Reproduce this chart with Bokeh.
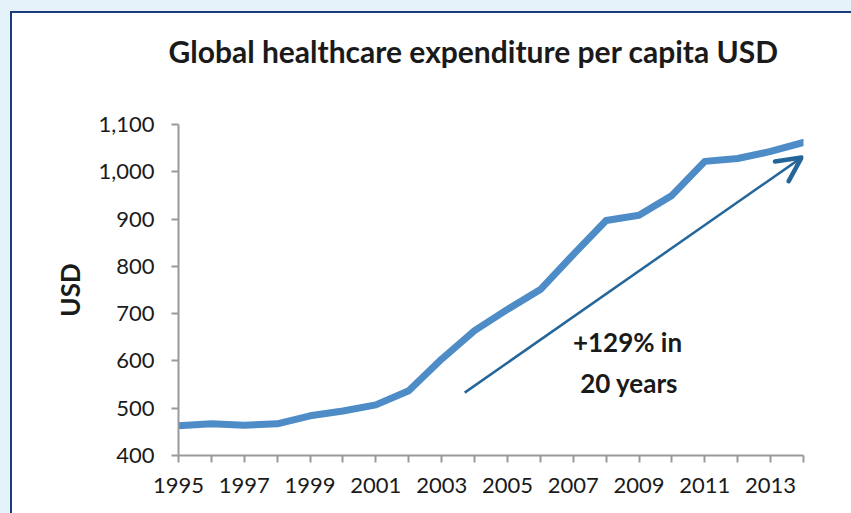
from bokeh.plotting import figure
from bokeh.layouts import column
from bokeh.models import (Range1d, FixedTicker, NumeralTickFormatter, Label,
                          Arrow, OpenHead, ColumnDataSource, Title)
from bokeh.embed import file_html
from bokeh.resources import INLINE

# ---- data ----
years = list(range(1995, 2015))
spend = [463, 467, 464, 467, 484, 494, 507, 537, 604, 664,
         709, 751, 825, 897, 908, 950, 1022, 1028, 1043, 1062]
x_label_years = list(range(1995, 2014, 2))
x_minor_years = list(range(1996, 2015, 2))
y_ticks = [400, 500, 600, 700, 800, 900, 1000, 1100]
title_text = "Global healthcare expenditure per capita USD"
y_title = "USD"
note_line1 = "+129% in"
note_line2 = "20 years"
arrow_from = (2003.7, 533)
arrow_to = (2013.94, 1030)

FONT = "Lato"
TXT = "#1a1a1a"
AXIS = "#9a9a9a"

p = figure(width=839, height=500, output_backend="svg", toolbar_location=None,
           x_range=Range1d(1995, 2014), y_range=Range1d(400, 1100),
           min_border_left=166, min_border_top=111, min_border_right=48,
           min_border_bottom=58, border_fill_color="white",
           background_fill_color="white")
p.outline_line_color = None
p.grid.visible = False

# title (outermost) + invisible spacer between title and frame
p.title.text = title_text
p.title.align = "left"
p.title.offset = -10
p.title.standoff = 0
p.title.text_font = FONT
p.title.text_font_style = "bold"
p.title.text_font_size = "30px"
p.title.text_color = TXT
p.add_layout(Title(text=" ", text_font_size="1px", standoff=53,
                   text_color="white"), "above")

src = ColumnDataSource(dict(x=years, y=spend))
p.line("x", "y", source=src, line_color="#4d8cc7", line_width=7,
       line_join="round", line_cap="round")

p.add_layout(Arrow(end=OpenHead(size=24, line_color="#24669a", line_width=4.5,
                                line_cap="round", line_join="round"),
                   x_start=arrow_from[0], y_start=arrow_from[1],
                   x_end=arrow_to[0], y_end=arrow_to[1],
                   line_color="#24669a", line_width=2.5))

# axes
xa = p.xaxis[0]
xa.ticker = FixedTicker(ticks=x_label_years, minor_ticks=x_minor_years)
ya = p.yaxis[0]
ya.ticker = FixedTicker(ticks=y_ticks)
ya.formatter = NumeralTickFormatter(format="0,0")
for ax in (xa, ya):
    ax.axis_line_color = AXIS
    ax.axis_line_width = 2
    ax.major_tick_line_color = AXIS
    ax.major_tick_line_width = 2
    ax.minor_tick_line_color = AXIS
    ax.minor_tick_line_width = 2
    ax.major_tick_in = 0
    ax.minor_tick_in = 0
    ax.major_label_text_font = FONT
    ax.major_label_text_font_size = "22px"
    ax.major_label_text_color = TXT
xa.major_tick_out = 7
xa.minor_tick_out = 7
xa.major_label_standoff = 15
ya.major_tick_out = 7
ya.minor_tick_out = 0
ya.major_label_standoff = 17
ya.axis_label = y_title
ya.axis_label_text_font = FONT
ya.axis_label_text_font_style = "bold"
ya.axis_label_text_font_size = "26px"
ya.axis_label_text_color = TXT
ya.axis_label_standoff = 9

p.add_layout(Label(x=2008.65, y=641, text=note_line1, text_font=FONT,
                   text_font_style="bold", text_font_size="26px",
                   text_color=TXT, text_align="center",
                   text_baseline="alphabetic"))
p.add_layout(Label(x=2008.7, y=554, text=note_line2, text_font=FONT,
                   text_font_style="bold", text_font_size="26px",
                   text_color=TXT, text_align="center",
                   text_baseline="alphabetic"))

card = column(p, width=839, height=500, margin=(2, 0, 0, 2),
              styles={"background-color": "white"})
frame_box = column(card, width=841, height=502, margin=(11, 0, 0, 10),
                   styles={"background-color": "#1d3c7c"})
outer = column(frame_box, width=851, height=513, margin=0,
               styles={"background-color": "#e5f2fa"})

open("out.html", "w").write(file_html(outer, INLINE))
